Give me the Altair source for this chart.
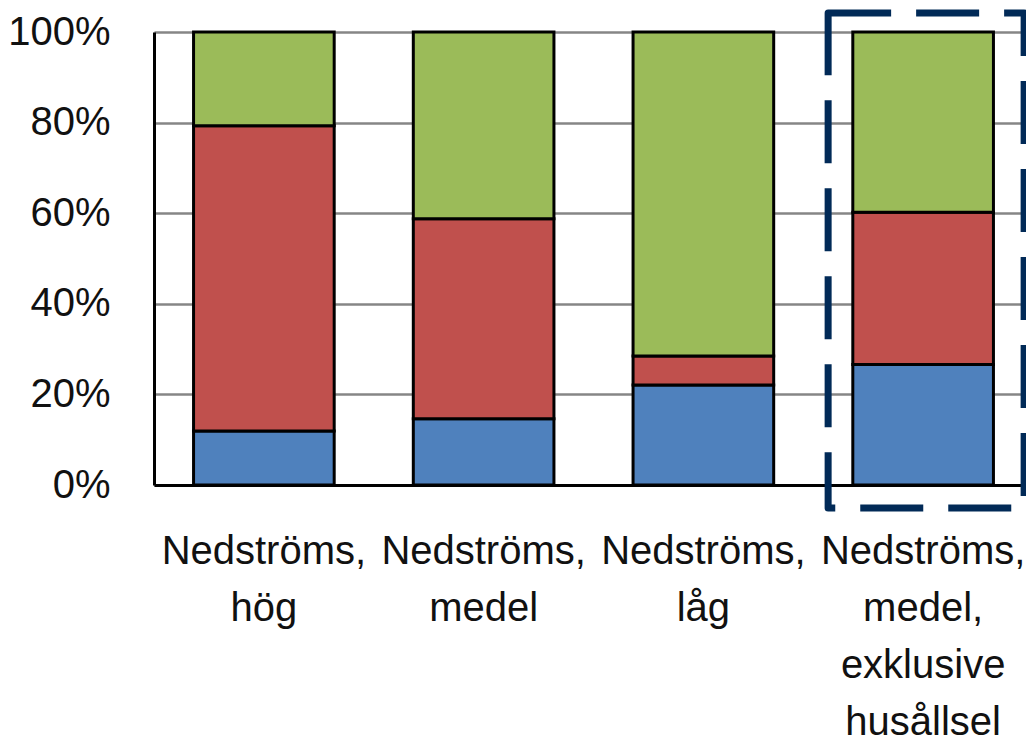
import altair as alt
import pandas as pd

categories = ["Nedströms,|hög", "Nedströms,|medel", "Nedströms,|låg",
              "Nedströms,|medel,|exklusive|husållsel"]
series = ["Serie 1", "Serie 2", "Serie 3"]
blue = [0.119, 0.146, 0.221, 0.266]
red = [0.674, 0.442, 0.064, 0.336]
green = [0.207, 0.412, 0.715, 0.398]
colors = ["#4F81BD", "#C0504D", "#9BBB59"]

# highlight box around last category (in data units)
box_cat = [categories[3]]
box_low = [-0.051]
box_high = [1.042]

rows = []
for i, c in enumerate(categories):
    for j, (s, v) in enumerate(zip(series, [blue[i], red[i], green[i]])):
        rows.append({"cat": c, "serie": s, "value": v, "ord": j})
df = pd.DataFrame(rows)
box_df = pd.DataFrame({"cat": box_cat, "lo": box_low, "hi": box_high})

FONT = "Liberation Sans"

xscale = alt.Scale(domain=categories, range=[0, 879], paddingInner=0.36, paddingOuter=0.18)
yscale = alt.Scale(domain=[0, 1], nice=False)

bars = alt.Chart(df).mark_bar(stroke="black", strokeWidth=3).encode(
    x=alt.X("cat:N", scale=xscale, sort=categories,
            axis=alt.Axis(title=None, labelExpr="split(datum.value, '|')",
                          labelFont=FONT, labelFontSize=40, labelColor="#111111",
                          labelLineHeight=57, labelPadding=46, labelLimit=0,
                          labelOverlap=False, labelAngle=0, ticks=False, tickSize=0,
                          domainColor="black", domainWidth=3, grid=False)),
    y=alt.Y("value:Q", scale=yscale, stack="zero",
            axis=alt.Axis(title=None, format=".0%", values=[0, 0.2, 0.4, 0.6, 0.8, 1.0],
                          labelFont=FONT, labelFontSize=40, labelColor="#111111",
                          labelPadding=44, ticks=False, tickSize=0,
                          domainColor="black", domainWidth=3,
                          grid=True, gridColor="#868686", gridWidth=2.5)),
    color=alt.Color("serie:N", scale=alt.Scale(domain=series, range=colors), legend=None),
    order=alt.Order("ord:Q"),
)

box = alt.Chart(box_df).mark_bar(
    filled=False, stroke="#012a57", strokeWidth=7,
    strokeDash=[63, 25], width=196, xOffset=3, strokeJoin="round", clip=False
).encode(
    x=alt.X("cat:N", scale=xscale, sort=categories),
    y=alt.Y("hi:Q", scale=yscale),
    y2="lo:Q",
)

chart = alt.layer(bars, box).properties(
    width=872, height=453,
    autosize=alt.AutoSizeParams(type="none"),
    padding={"left": 154, "top": 32, "right": 0, "bottom": 257},
).configure_view(stroke=None).configure(background="white")

chart.save("out.html", embed_options={"renderer": "svg", "actions": False})
